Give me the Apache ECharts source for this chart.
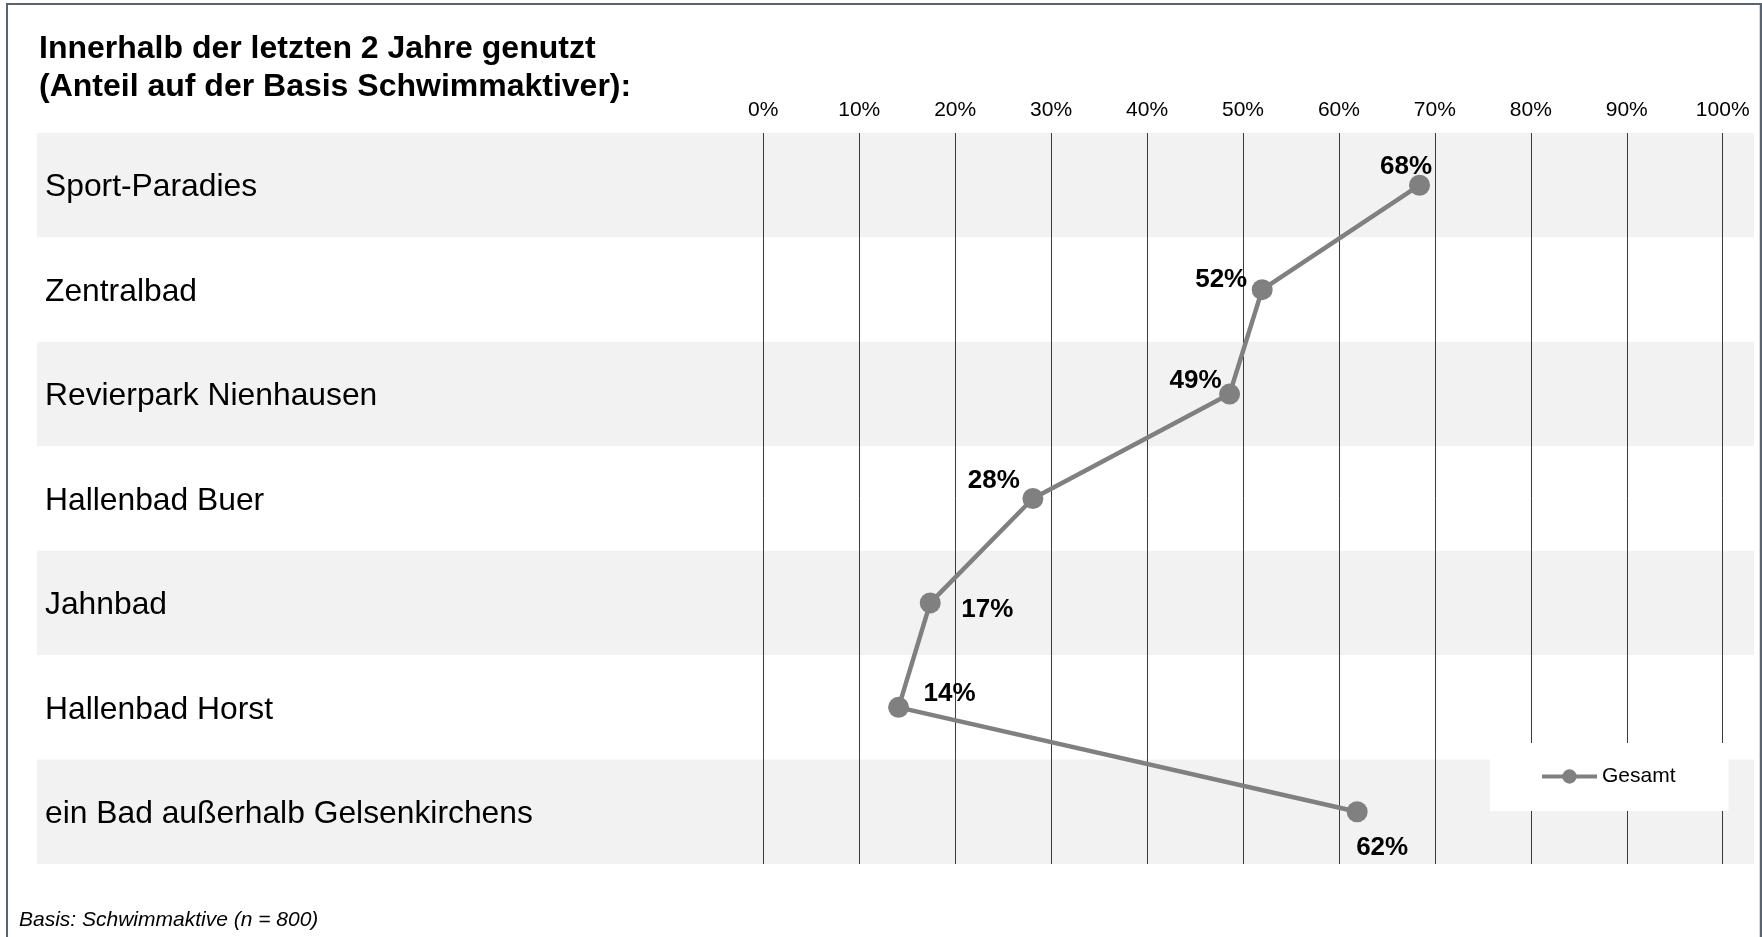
<!DOCTYPE html>
<html>
<head>
<meta charset="utf-8">
<script src="https://cdn.jsdelivr.net/npm/echarts@6/dist/echarts.min.js"></script>
<style>
html,body{margin:0;padding:0;background:#fff;}
#chart{width:1762px;height:937px;}
</style>
</head>
<body>
<div id="chart"></div>
<script>
var categories = ['Sport-Paradies', 'Zentralbad', 'Revierpark Nienhausen', 'Hallenbad Buer', 'Jahnbad', 'Hallenbad Horst', 'ein Bad außerhalb Gelsenkirchens'];
var values = [68.4, 52.0, 48.6, 28.1, 17.4, 14.1, 61.9];
var seriesName = 'Gesamt';
var titleText = 'Innerhalb der letzten 2 Jahre genutzt\n(Anteil auf der Basis Schwimmaktiver):';
var footnote = 'Basis: Schwimmaktive (n = 800)';
var axisMin = 0, axisMax = 100, axisStep = 10;

// label placement per point (style only)
var labelOffsets = [[-13.5, -18], [-41, -9.5], [-34, -13.5], [-39, -17.5], [57, 7], [51, -13.5], [25, 36.5]];

var FONT = '"Liberation Sans", Arial, sans-serif';
var chart = echarts.init(document.getElementById('chart'), null, {renderer: 'canvas'});

var seriesData = values.map(function (v, i) {
  return {
    value: [v, categories[i]],
    label: {offset: labelOffsets[i]}
  };
});

var option = {
  animation: false,
  backgroundColor: '#ffffff',
  textStyle: {fontFamily: FONT},
  title: {
    text: titleText,
    left: 39,
    top: 30,
    padding: 0,
    textStyle: {fontSize: 32, fontWeight: 'bold', color: '#000', lineHeight: 38, fontFamily: FONT}
  },
  legend: {
    data: [seriesName],
    left: 1490,
    top: 743,
    padding: [23, 53, 24, 50],
    backgroundColor: '#ffffff',
    itemWidth: 55,
    itemHeight: 18,
    itemGap: 0,
    lineStyle: {width: 4},
    textStyle: {fontSize: 21, color: '#000', fontFamily: FONT}
  },
  grid: [
    {left: 37, right: 8, top: 133, bottom: 73},
    {left: 763.3, right: 39.3, top: 133, bottom: 73}
  ],
  xAxis: [
    {gridIndex: 0, type: 'value', min: 0, max: 1, show: false},
    {
      gridIndex: 1, type: 'value', min: axisMin, max: axisMax, interval: axisStep,
      position: 'top', z: 3,
      axisLine: {show: false}, axisTick: {show: false},
      axisLabel: {formatter: '{value}%', fontSize: 21, color: '#000', margin: 12, fontFamily: FONT},
      splitLine: {show: true, lineStyle: {color: '#3a3a3a', width: 1}}
    }
  ],
  yAxis: [
    {
      gridIndex: 0, type: 'category', data: categories, inverse: true, z: 0,
      axisLine: {show: false}, axisTick: {show: false},
      axisLabel: {
        inside: true, margin: 8, color: '#000',
        formatter: '{c|{value}}',
        rich: {c: {fontSize: 31.8, color: '#000', fontFamily: FONT, padding: [5, 0, 0, 0]}}
      },
      splitLine: {show: false},
      splitArea: {show: true, areaStyle: {color: ['#f2f2f2', '#ffffff']}}
    },
    {
      gridIndex: 1, type: 'category', data: categories, inverse: true, show: false
    }
  ],
  series: [{
    name: seriesName,
    type: 'line',
    xAxisIndex: 1,
    yAxisIndex: 1,
    data: seriesData,
    symbol: 'circle',
    symbolSize: 21,
    z: 5,
    itemStyle: {color: '#808080'},
    lineStyle: {color: '#808080', width: 4.5},
    label: {
      show: true,
      position: 'inside',
      fontSize: 26,
      fontWeight: 'bold',
      color: '#000',
      fontFamily: FONT,
      formatter: function (p) { return Math.round(p.value[0]) + '%'; }
    }
  }],
  graphic: [
    {type: 'line', z: 10, shape: {x1: 7, y1: 4, x2: 7, y2: 937}, style: {stroke: '#5a6470', lineWidth: 2}},
    {type: 'line', z: 10, shape: {x1: 6, y1: 4, x2: 1762, y2: 4}, style: {stroke: '#5a6470', lineWidth: 2}},
    {type: 'line', z: 10, shape: {x1: 1761, y1: 4, x2: 1761, y2: 937}, style: {stroke: '#5a6470', lineWidth: 2.5}},
    {type: 'text', left: 19, top: 910, style: {text: footnote, font: 'italic 21px ' + FONT, fill: '#000'}}
  ]
};
chart.setOption(option);
</script>
</body>
</html>
